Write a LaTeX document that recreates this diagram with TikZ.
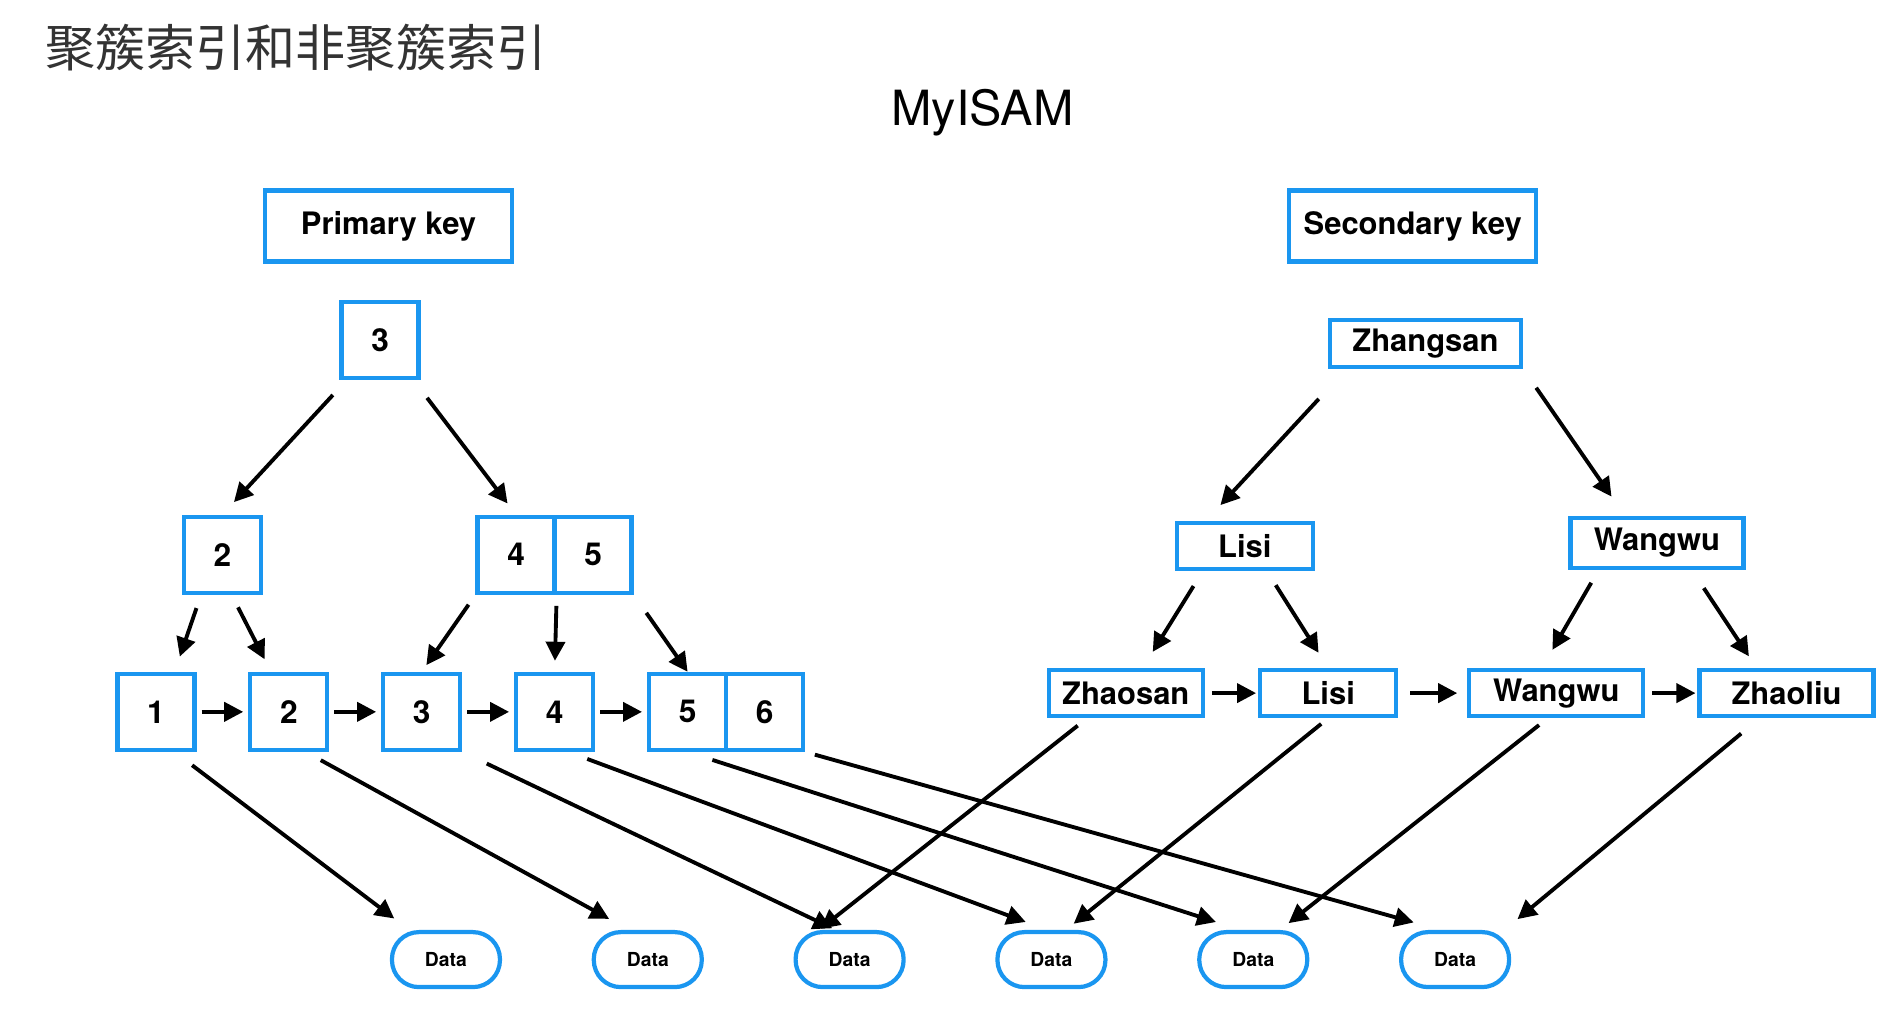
\documentclass[tikz,border=0pt]{standalone}
\usepackage{fontspec}
\setmainfont{TeX Gyre Heros}
\newfontfamily\cjk{Noto Sans CJK SC}
\usetikzlibrary{positioning,arrows.meta}
\definecolor{boxblue}{RGB}{26,150,240}
\definecolor{titlegray}{RGB}{51,51,51}
\tikzset{
	index/.style={x=0.012085cm,y=-0.012085cm,>={Triangle[length=0.19cm,width=0.19cm]},
		line width=1.1pt},
	keybox/.style={draw=boxblue,line width=1.2pt,minimum width=2.47cm,minimum height=0.71cm,
		inner sep=0pt,font=\fontsize{8.8pt}{10pt}\selectfont\bfseries},
	keycell/.style={draw=boxblue,line width=1.2pt,minimum width=0.77cm,minimum height=0.76cm,
		inner sep=0pt,font=\fontsize{9pt}{10pt}\selectfont\bfseries},
	namebox/.style={draw=boxblue,line width=1.2pt,minimum height=0.46cm,
		inner sep=0pt,font=\fontsize{8.8pt}{10pt}\selectfont\bfseries},
	databox/.style={draw=boxblue,line width=1.2pt,rounded corners=0.27cm,minimum width=1.08cm,
		minimum height=0.55cm,inner sep=0pt,font=\fontsize{5.5pt}{6pt}\selectfont\bfseries},
	ptr/.style={->,line width=1.1pt,shorten <=0.15cm,shorten >=0.15cm},
	nextptr/.style={->,line width=1.1pt,shorten <=0.05cm,shorten >=0.05cm}
}

\begin{document}
\begin{tikzpicture}[index]
	\useasboundingbox (0,0) rectangle (1568,840.7);
	
	\node[anchor=west,inner sep=0pt,text=titlegray,font=\cjk\fontsize{14.25pt}{16pt}\selectfont] (title) at (36,39) {聚簇索引和非聚簇索引};
	\node[anchor=base,font=\fontsize{13.8pt}{15pt}\selectfont] (myisam) at (813,104) {MyISAM};
	
	% primary key tree
	\node[keybox] (pk) at (321.5,187) {Primary key};
	\node[keycell] (r3) at (314.5,281.5) {3};
	\node[keycell] (n2) at (184,459) {2};
	\node[keycell] (n4) at (427,459) {4};
	\node[keycell] (n5) [right=-1.2pt of n4] {5};
	\node[keycell] (l1) at (129,589) {1};
	\node[keycell] (l2) [right=0.517cm of l1] {2};
	\node[keycell] (l3) [right=0.517cm of l2] {3};
	\node[keycell] (l4) [right=0.517cm of l3] {4};
	\node[keycell] (l5) [right=0.517cm of l4] {5};
	\node[keycell] (l6) [right=-1.2pt of l5] {6};
	
	% secondary key tree
	\node[keybox] (sk) at (1169,187) {Secondary key};
	\node[namebox,minimum width=1.91cm,minimum height=0.47cm] (zs) at (1179.5,284) {Zhangsan};
	\node[namebox,minimum width=1.36cm] (li) at (1030,451.5) {Lisi};
	\node[namebox,minimum width=1.73cm,minimum height=0.50cm] (ww) at (1371,449) {Wangwu};
	\node[namebox,minimum width=1.54cm] (zsan) at (931.5,573.5) {Zhaosan};
	\node[namebox,minimum width=1.36cm] (li2) [right=0.532cm of zsan] {Lisi};
	\node[namebox,minimum width=1.74cm] (ww2) [right=0.689cm of li2] {Wangwu};
	\node[namebox,minimum width=1.74cm] (zl) [right=0.52cm of ww2] {Zhaoliu};
	
	% rows
	\node[databox] (d1) at (369,794) {Data};
	\node[databox] (d2) [right=0.896cm of d1] {Data};
	\node[databox] (d3) [right=0.896cm of d2] {Data};
	\node[databox] (d4) [right=0.896cm of d3] {Data};
	\node[databox] (d5) [right=0.896cm of d4] {Data};
	\node[databox] (d6) [right=0.896cm of d5] {Data};
	
	\draw[ptr,shorten <=0.2cm,shorten >=0.17cm] (r3.-130) -- (n2.north);
	\draw[ptr,shorten <=0.22cm,shorten >=0.14cm] (r3.-50) -- (n4.north);
	\draw[ptr,shorten <=0.14cm,shorten >=0.16cm] (n2.-118) -- (l1.65);
	\draw[ptr,shorten <=0.14cm,shorten >=0.14cm] (n2.-77) -- (l2.114);
	\draw[ptr,shorten <=0.12cm,shorten >=0.08cm] (n4.south west) -- (l3.north);
	\draw[ptr,shorten <=0.11cm,shorten >=0.11cm] (n4.south east) -- (l4.north);
	\draw[ptr,shorten <=0.22cm,shorten >=0pt] (n5.south east) -- (l5.north);
	\foreach \a/\b in {l1/l2,l2/l3,l3/l4,l4/l5}
		\draw[nextptr] (\a) -- (\b);
	
	\draw[ptr,shorten <=0.41cm,shorten >=0.21cm] (zs.198) -- (li.147);
	\draw[ptr,shorten <=0.23cm,shorten >=0.23cm] (zs.south east) -- (ww.140);
	\draw[ptr,shorten <=0.18cm,shorten >=0.19cm] (li.211) -- (zsan.56);
	\draw[ptr,shorten <=0.17cm,shorten >=0.18cm] (li.-49) -- (li2.north);
	\draw[ptr,shorten <=0.15cm,shorten >=0.21cm] (ww.205) -- (ww2.120);
	\draw[ptr,shorten <=0.22cm,shorten >=0.14cm] (ww.-38) -- (zl.140);
	\draw[nextptr,shorten <=0.07cm,shorten >=0.02cm] (zsan) -- (li2);
	\draw[nextptr,shorten <=0.12cm,shorten >=0.1cm] (li2) -- (ww2);
	\draw[nextptr,shorten <=0.07cm,shorten >=0.02cm] (ww2) -- (zl);
	
	\draw[ptr,shorten <=0.22cm,shorten >=0.19cm] (l1.-65) -- (d1.141);
	\draw[ptr,shorten <=0.17cm,shorten >=0.23cm] (l2.-67) -- (d2.122);
	\draw[ptr,shorten <=0.27cm,shorten >=0.04cm] (l3.south east) -- (d3.115);
	\draw[ptr,shorten <=0.2cm,shorten >=0.23cm] (l4.-71) -- (d4.98);
	\draw[ptr,shorten <=0.26cm,shorten >=0.26cm] (l5.south) -- (d5.113);
	\draw[ptr,shorten <=0.1cm,shorten >=0.28cm] (l6.south east) -- (d6.116);
	\draw[ptr,shorten <=0.12cm,shorten >=0.02cm] (zsan.213.5) -- (d3.136);
	\draw[ptr,shorten <=0.09cm,shorten >=0.1cm] (li2.south) -- (d4.64);
	\draw[ptr,shorten <=0.11cm,shorten >=0.11cm] (ww2.-109) -- (d5.48);
	\draw[ptr,shorten <=0.24cm,shorten >=0.17cm] (zl.-137) -- (d6.31);
\end{tikzpicture}
\end{document}
